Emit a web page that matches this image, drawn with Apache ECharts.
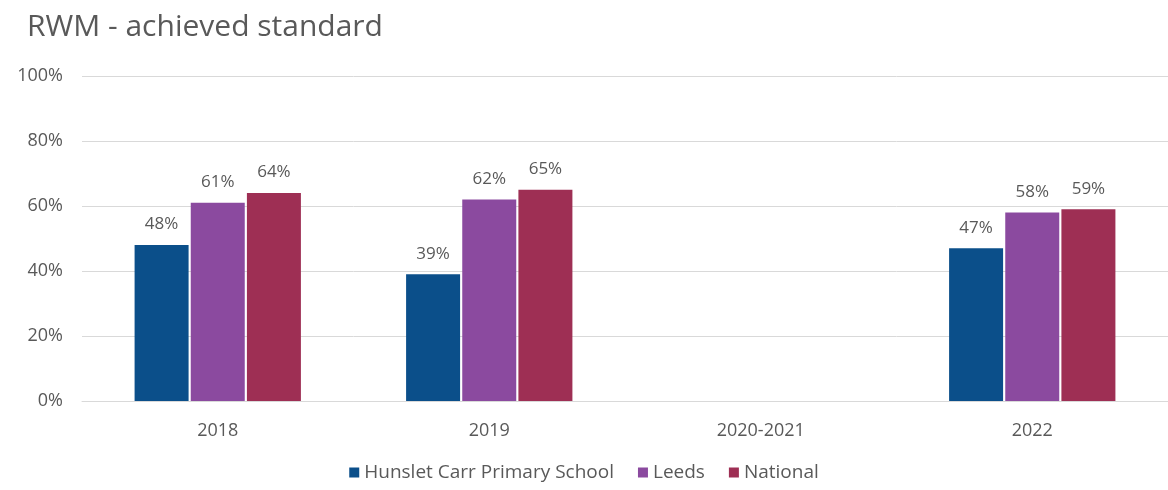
<!DOCTYPE html>
<html>
<head>
<meta charset="utf-8">
<script src="https://cdn.jsdelivr.net/npm/echarts@6/dist/echarts.min.js"></script>
<style>
  html, body { margin: 0; padding: 0; background: #fff; }
  #chart { width: 1168px; height: 490px; }
</style>
</head>
<body>
<div id="chart"></div>
<script>
// Percentage of pupils reaching the expected standard in reading, writing and maths
const years = ['2018', '2019', '2020-2021', '2022'];
const hunslet = [48, 39, null, 47];
const leeds = [61, 62, null, 58];
const national = [64, 65, null, 59];
const seriesNames = ['Hunslet Carr Primary School', 'Leeds', 'National'];
const colors = ['#0B4F8A', '#8B4A9F', '#9E2F54'];

const textColor = '#595959';
const fontFamily = '"Open Sans", "Noto Sans", sans-serif';

function barSeries(name, data, color) {
  return {
    name: name,
    type: 'bar',
    data: data,
    barWidth: 54,
    barGap: '4%',
    itemStyle: { color: color },
    label: {
      show: true,
      position: 'top',
      distance: 12,
      formatter: p => p.value + '%',
      color: textColor,
      fontSize: 17,
      fontFamily: fontFamily
    }
  };
}

const chart = echarts.init(document.getElementById('chart'));
chart.setOption({
  animation: false,
  textStyle: { fontFamily: fontFamily },
  title: {
    text: 'RWM - achieved standard',
    left: 22,
    top: 7,
    textStyle: { color: textColor, fontSize: 30, fontWeight: 'normal', fontFamily: fontFamily }
  },
  legend: {
    bottom: 3,
    left: 'center',
    itemWidth: 10,
    itemHeight: 10,
    itemGap: 24,
    icon: 'rect',
    textStyle: { color: textColor, fontSize: 19, fontFamily: fontFamily },
    data: seriesNames
  },
  grid: { left: 82, right: -2, top: 76, bottom: 89, containLabel: false },
  xAxis: {
    type: 'category',
    data: years,
    axisLine: { lineStyle: { color: '#D9D9D9', width: 1 } },
    axisTick: { show: false },
    axisLabel: { color: textColor, fontSize: 18, margin: 21, fontFamily: fontFamily }
  },
  yAxis: {
    type: 'value',
    min: 0,
    max: 100,
    interval: 20,
    axisLine: { show: false },
    axisTick: { show: false },
    splitLine: { lineStyle: { color: '#D9D9D9', width: 1 } },
    axisLabel: { formatter: '{value}%', color: textColor, fontSize: 18, margin: 19, fontFamily: fontFamily }
  },
  series: [
    barSeries(seriesNames[0], hunslet, colors[0]),
    barSeries(seriesNames[1], leeds, colors[1]),
    barSeries(seriesNames[2], national, colors[2])
  ]
});
</script>
</body>
</html>
